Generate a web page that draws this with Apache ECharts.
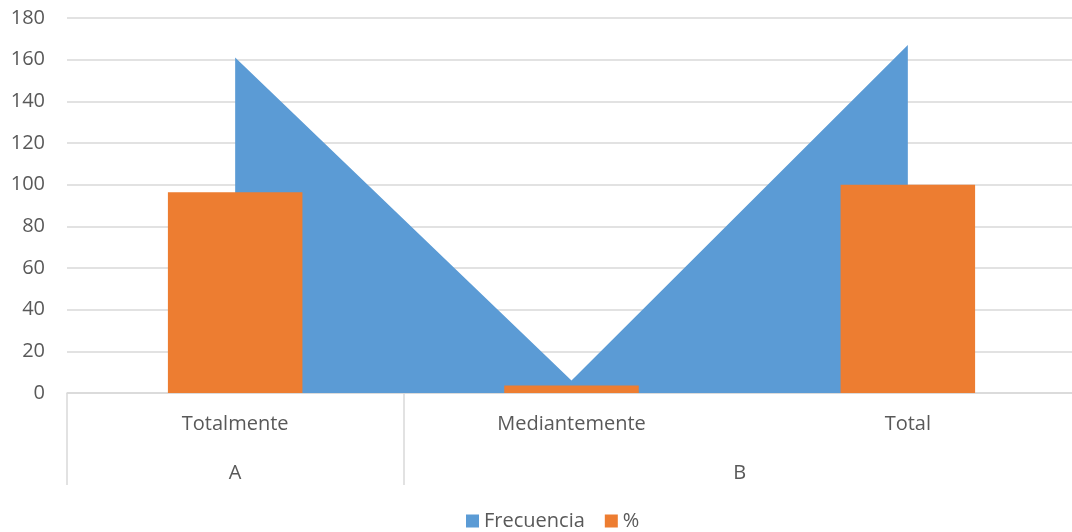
<!DOCTYPE html>
<html>
<head>
<meta charset="utf-8">
<script src="https://cdn.jsdelivr.net/npm/echarts@6/dist/echarts.min.js"></script>
<style>
  html, body { margin: 0; padding: 0; background: #fff; }
  #main { width: 1072px; height: 532px; }
</style>
</head>
<body>
<div id="main"></div>
<script>
// categorias y datos
var categorias = ['Totalmente', 'Mediantemente', 'Total'];
var grupos = ['', 'A', '', '', 'B', '', ''];   // segundo nivel, a medio paso de categoria
var frecuencia = [161, 6, 167];
var porcentaje = [96.4, 3.6, 100];

var gris = '#595959';
var linea = '#d9d9d9';
var fuente = 'Open Sans';

var chart = echarts.init(document.getElementById('main'));
chart.setOption({
    animation: false,
    textStyle: { fontFamily: fuente, color: gris },
    grid: { left: 67, width: 1009, top: 18, bottom: 139, outerBoundsMode: 'none' },
    legend: {
        bottom: -4,
        left: 461,
        icon: 'rect',
        itemWidth: 13,
        itemHeight: 13,
        itemGap: 20,
        textStyle: { fontFamily: fuente, fontSize: 20, color: gris },
        data: ['Frecuencia', '%']
    },
    xAxis: [
        {
            type: 'category',
            data: categorias,
            axisLine: { lineStyle: { color: linea, width: 1.5 } },
            axisTick: { show: false },
            axisLabel: { fontSize: 20, color: gris, margin: 21, fontFamily: fuente }
        },
        {
            type: 'category',
            data: grupos,
            boundaryGap: false,
            position: 'bottom',
            axisLine: { show: false },
            axisTick: {
                show: true,
                length: 92,
                interval: function (i) { return i === 0 || i === 2; },
                lineStyle: { color: linea, width: 1.5 }
            },
            axisLabel: { interval: 0, fontSize: 20, color: gris, margin: 70, fontFamily: fuente }
        }
    ],
    yAxis: {
        type: 'value',
        min: 0,
        max: 180,
        interval: 20,
        axisLine: { show: false },
        axisTick: { show: false },
        axisLabel: { fontSize: 20, color: gris, margin: 22, fontFamily: fuente },
        splitLine: { lineStyle: { color: linea, width: 1.5 } }
    },
    series: [
        {
            name: 'Frecuencia',
            type: 'line',
            data: frecuencia,
            symbol: 'none',
            z: 1,
            itemStyle: { color: '#5b9bd5' },
            lineStyle: { width: 0 },
            areaStyle: { color: '#5b9bd5', opacity: 1 }
        },
        {
            name: '%',
            type: 'bar',
            data: porcentaje,
            barWidth: '40%',
            z: 3,
            itemStyle: { color: '#ed7d31' }
        }
    ]
});
</script>
</body>
</html>
